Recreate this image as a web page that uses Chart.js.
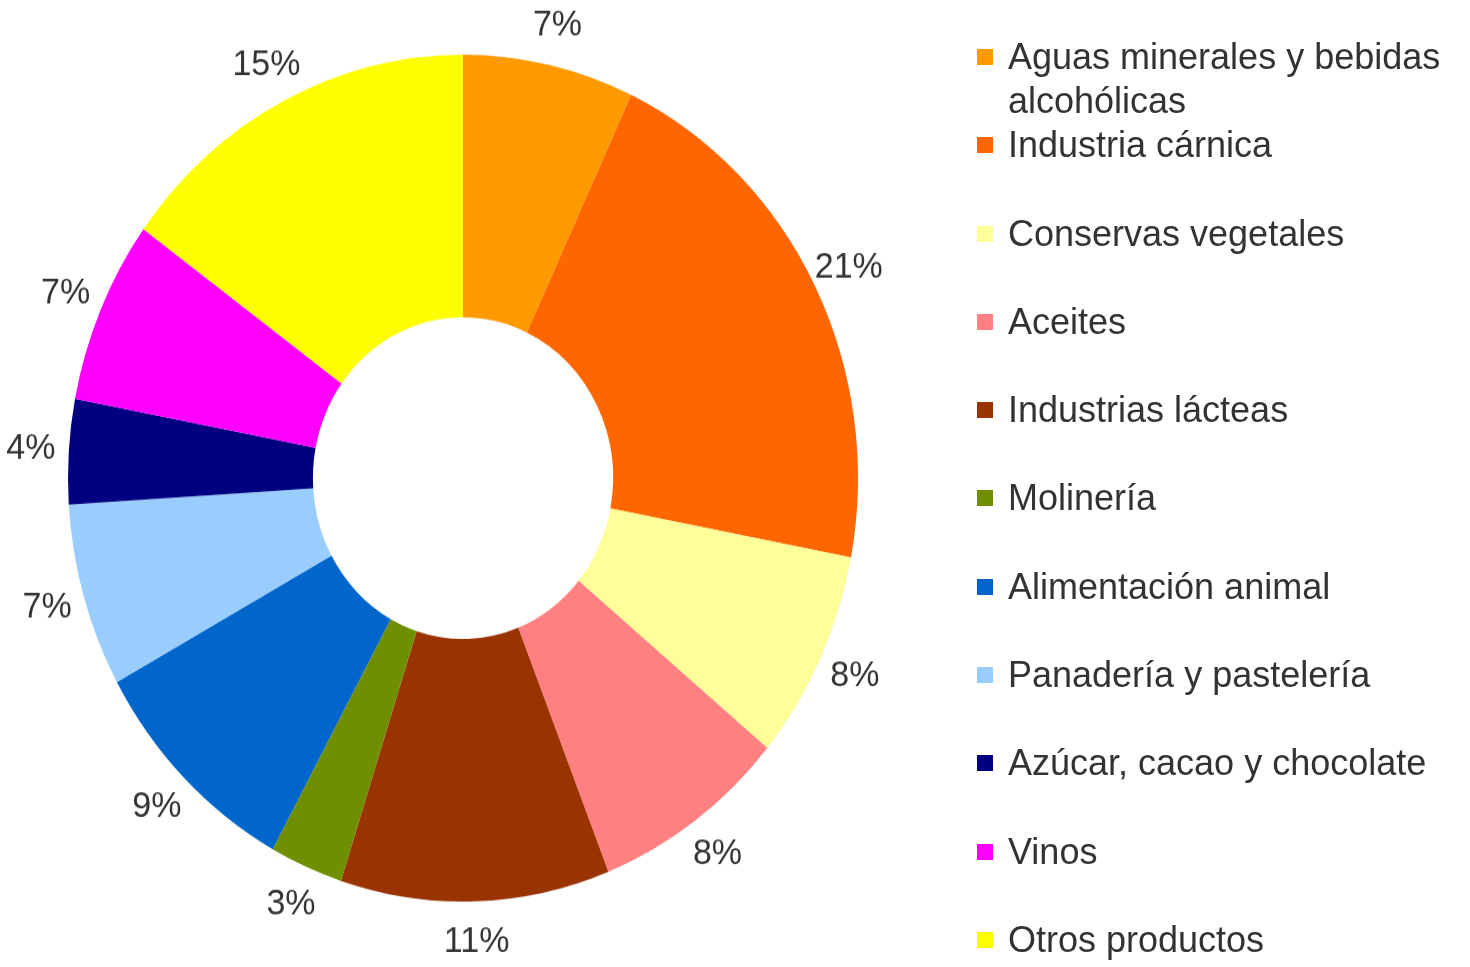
<!DOCTYPE html>
<html>
<head>
<meta charset="utf-8">
<script src="https://cdn.jsdelivr.net/npm/chart.js@4.4.1/dist/chart.umd.min.js"></script>
<style>
  html, body { margin: 0; padding: 0; background: #ffffff; }
  body { width: 1470px; height: 967px; position: relative; overflow: hidden; font-family: "Liberation Sans", Arial, sans-serif; }
  #pieWrap { position: absolute; left: 0; top: 0; width: 1470px; height: 902px; transform: scaleY(1.072); transform-origin: 0 0; }
  #legend { position: absolute; left: 977px; top: 35px; width: 490px; }
  .item { display: flex; align-items: flex-start; height: 88.3px; }
  .box { width: 16px; height: 16px; margin-top: 14px; margin-right: 15px; flex: none; }
  .txt { font-size: 36px; line-height: 44px; color: #333333; width: 460px; }
</style>
</head>
<body>
<div id="pieWrap"><canvas id="c"></canvas></div>
<div id="legend"></div>
<script>
const categories = [
  "Aguas minerales y bebidas alcohólicas",
  "Industria cárnica",
  "Conservas vegetales",
  "Aceites",
  "Industrias lácteas",
  "Molinería",
  "Alimentación animal",
  "Panadería y pastelería",
  "Azúcar, cacao y chocolate",
  "Vinos",
  "Otros productos"
];
const shares = [7, 21, 8, 8, 11, 3, 9, 7, 4, 7, 15];
const sliceColors = [
  "#FF9900", "#FF6600", "#FFFF99", "#FF8080", "#993300", "#6F8F00",
  "#0066CC", "#99CCFF", "#000080", "#FF00FF", "#FFFF00"
];

// HTML legend built from the arrays
const legendEl = document.getElementById('legend');
categories.forEach((name, i) => {
  const it = document.createElement('div');
  it.className = 'item';
  const b = document.createElement('div');
  b.className = 'box';
  b.style.background = sliceColors[i];
  const t = document.createElement('div');
  t.className = 'txt';
  t.textContent = name;
  it.appendChild(b); it.appendChild(t);
  legendEl.appendChild(it);
});

const outsideLabels = {
  id: 'outsideLabels',
  afterDatasetsDraw(chart) {
    const ctx = chart.ctx;
    const meta = chart.getDatasetMeta(0);
    ctx.save();
    ctx.font = '34px "Liberation Sans", Arial, sans-serif';
    ctx.fillStyle = '#333333';
    ctx.textAlign = 'center';
    ctx.textBaseline = 'middle';
    meta.data.forEach((arc, i) => {
      const p = arc.getProps(['x', 'y', 'startAngle', 'endAngle', 'outerRadius'], true);
      const mid = (p.startAngle + p.endAngle) / 2;
      const r = p.outerRadius + 38;
      ctx.fillText(shares[i] + '%', p.x + Math.cos(mid) * r, p.y + Math.sin(mid) * r);
    });
    ctx.restore();
  }
};

new Chart(document.getElementById('c'), {
  type: 'doughnut',
  data: {
    labels: categories,
    datasets: [{
      data: shares,
      backgroundColor: sliceColors,
      borderWidth: 0
    }]
  },
  options: {
    responsive: true,
    maintainAspectRatio: false,
    animation: false,
    cutout: '38%',
    rotation: 0,
    layout: { padding: { left: 68, right: 612, top: 51, bottom: 61 } },
    plugins: {
      legend: { display: false },
      tooltip: { enabled: false }
    }
  },
  plugins: [outsideLabels]
});
</script>
</body>
</html>
